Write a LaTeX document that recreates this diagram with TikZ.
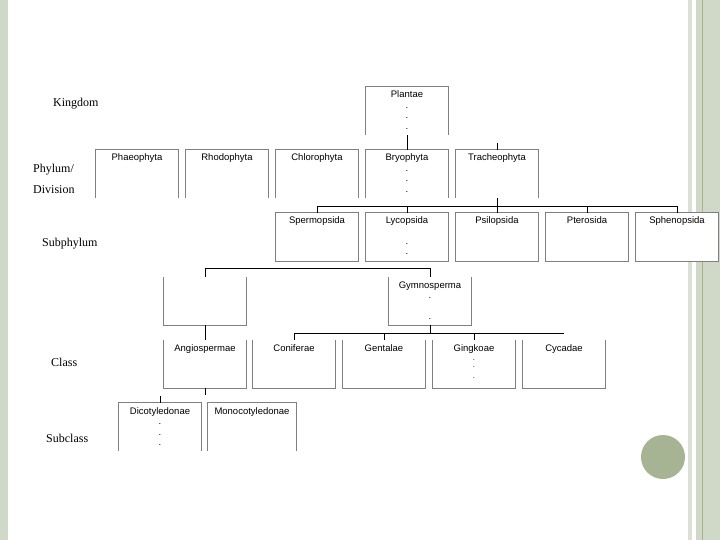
\documentclass[tikz,border=0pt]{standalone}
\usepackage{fontspec}
\setmainfont{Liberation Serif}
\setsansfont{Liberation Sans}
\usetikzlibrary{calc}
\definecolor{sage}{RGB}{208,216,200}
\definecolor{sagedark}{RGB}{166,180,148}
\definecolor{framegray}{RGB}{128,128,128}

\begin{document}
\begin{tikzpicture}[x=1pt, y=-1pt,
  box/.style={fill=white, text width=76pt, align=center, inner xsep=3pt, inner ysep=0pt,
    text height=11pt, text depth=37pt, font=\sffamily\fontsize{9.5}{10.5}\selectfont},
  rank/.style={anchor=base west, inner sep=0pt, font=\fontsize{12}{14}\selectfont},
  frame/.style={draw=framegray, line width=0.9pt},
  link/.style={draw=black, line width=1pt}
]
\useasboundingbox (0,0) rectangle (720,540);
% slide background
\fill[sage] (0,0) rectangle (8,540);
\fill[sage!80] (688,0) rectangle (692,540);
\fill[sage] (696,0) rectangle (720,540);
\draw[sagedark, line width=1pt] (702.5,0) -- (702.5,540);
\fill[sagedark] (663,457) circle (22);

% rank names
\node[rank] (lking) at (53,106.5) {Kingdom};
\node[rank] (lphy)  at (33,172.5) {Phylum/};
\node[rank] (ldiv)  at (33,193.5) {Division};
\node[rank] (lsub)  at (42,246.5) {Subphylum};
\node[rank] (lcla)  at (51,366)   {Class};
\node[rank] (lscl)  at (46,442)   {Subclass};

% kingdom
\node[box] (pla) at (407,111) {Plantae\\.\\.\\.};
% phylum / division
\node[box] (pha) at (137,174) {Phaeophyta};
\node[box] (rho) at (227,174) {Rhodophyta};
\node[box] (chl) at (317,174) {Chlorophyta};
\node[box] (bry) at (407,174) {Bryophyta\\.\\.\\.};
\node[box] (tra) at (497,174) {Tracheophyta};
% subphylum
\node[box] (spe) at (317,237) {Spermopsida};
\node[box] (lyc) at (407,237) {Lycopsida\\[10pt].\\.};
\node[box] (psi) at (497,237) {Psilopsida};
\node[box] (pte) at (587,237) {Pterosida};
\node[box] (sph) at (677,237) {Sphenopsida};
\node[box] (emp) at (205,301) {};
\node[box] (gym) at (430,301) {Gymnosperma\\.\\[10pt].};
% class
\node[box] (ang) at (205,364) {Angiospermae};
\node[box] (con) at (294,364) {Coniferae};
\node[box] (gen) at (384,364) {Gentalae};
\node[box] (gin) at (474,364) {Gingkoae\\[2.5pt]\fontsize{7.5}{7}\selectfont .\\.\\.};
\node[box] (cyc) at (564,364) {Cycadae};
% subclass
\node[box] (dic) at (160,427) {Dicotyledonae\\.\\.\\.};
\node[box, text width=83pt] (mon) at (252,427) {Monocotyledonae};

% box outlines
\foreach \n in {pla,pha,rho,chl,bry,tra,dic,mon}
  \draw[frame] (\n.south west) |- (\n.north east) -- (\n.south east);
\foreach \n in {spe,lyc,psi,pte,sph}
  \draw[frame] (\n.south west) rectangle (\n.north east);
\foreach \n in {emp,gym,ang,con,gen,gin,cyc}
  \draw[frame] (\n.north west) |- (\n.south east) -- (\n.north east);

% connectors
\draw[link] (pla.south) -- (bry.north);
\draw[link] (tra.north) -- ++(0,-7);
\draw[link] (tra.south) -- ++(0,8) coordinate (bus1);
\draw[link] (spe.north) |- (sph.north |- bus1) -- (sph.north);
\foreach \n in {lyc,psi,pte}
  \draw[link] (\n.north) -- (\n.north |- bus1);
\draw[link] (emp.north) -- ++(0,-8) -| (gym.north);
\draw[link] (emp.south) -- (ang.north);
\draw[link] (gym.south) -- ++(0,8) coordinate (bus2);
\draw[link] (con.north) |- (cyc.north |- bus2);
\foreach \n in {gen,gin}
  \draw[link] (\n.north) -- (\n.north |- bus2);
\draw[link] (ang.south) -- ++(0,7);
\draw[link] (dic.north) -- ++(0,-7);
\end{tikzpicture}
\end{document}
